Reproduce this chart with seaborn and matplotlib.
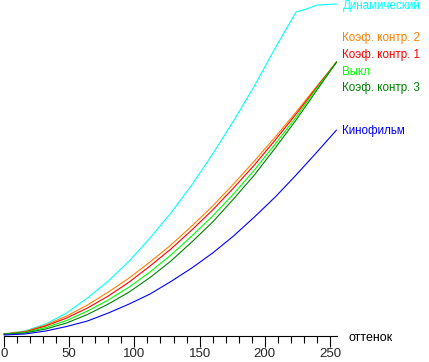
import matplotlib
matplotlib.use('Agg')
from matplotlib import pyplot as plt
from matplotlib.ticker import MultipleLocator
import pandas as pd
import seaborn as sns

shade = [0, 16, 32, 48, 64, 80, 96, 112, 128, 144, 160, 176, 192, 208, 224, 240, 255]
dynamic_shade = [0, 16, 32, 48, 64, 80, 96, 112, 128, 144, 160, 176, 192, 208, 224, 232, 240, 255]
dynamic = [2, 5, 12, 23, 38, 55, 75, 98, 123, 151, 182, 215, 250, 288, 324, 327, 331, 332]
contrast2 = [2, 4.5, 11, 20, 31, 44, 58, 74, 91, 110, 130, 152, 175, 199, 224, 250, 274]
contrast1 = [2, 4, 10, 18, 28, 40, 54, 70, 87, 106, 126, 148, 171, 196, 222, 249, 274]
off = [2, 3.5, 8.5, 15.5, 25, 36, 49, 64, 81, 100, 120, 142, 166, 192, 219, 248, 274]
contrast3 = [2, 3, 7, 13, 21.5, 32, 44, 58.5, 75, 94, 114, 137, 161, 188, 216, 246, 274]
cinema = [1, 2, 5, 9.5, 15, 23, 32, 42, 54.5, 68, 83, 100, 119, 139, 161, 184, 206]

names = ['Динамический', 'Коэф. контр. 2', 'Коэф. контр. 1', 'Выкл',
         'Коэф. контр. 3', 'Кинофильм']
colors = ['#00ffff', '#ff8000', '#ff0000', '#00ff00', '#008000', '#0000ff']
label_y = [330, 298, 281, 264, 248, 205]

sns.set_style('white')
plt.rcParams['font.family'] = ['Liberation Sans', 'DejaVu Sans']

fig = plt.figure(figsize=(4.29, 3.62), dpi=100)
ax = fig.add_axes([4 / 429, 26 / 362, 333.2 / 429, 334 / 362])

series = [(dynamic_shade, dynamic)] + [(shade, s) for s in
                                       [contrast2, contrast1, off, contrast3, cinema]]
for (xs, ys), name, c in zip(series, names, colors):
    df = pd.DataFrame({'x': xs, 'y': ys})
    sns.lineplot(data=df, x='x', y='y', color=c, linewidth=0.8, ax=ax, clip_on=False)

for name, c, ly in zip(names, colors, label_y):
    ax.text(259.5, ly, name, color=c, fontsize=8.4, ha='left', va='center')

ax.text(264.5, -5, 'оттенок', color='black', fontsize=9, ha='left', va='baseline')

ax.set_xlim(0, 255.5)
ax.set_ylim(0, 334)
for side in ['left', 'top', 'right']:
    ax.spines[side].set_visible(False)
ax.spines['bottom'].set_color('black')
ax.spines['bottom'].set_linewidth(0.8)
ax.set_yticks([])
ax.xaxis.set_major_locator(MultipleLocator(50))
ax.xaxis.set_minor_locator(MultipleLocator(10))
ax.tick_params(axis='x', which='major', direction='out', length=8, width=0.8,
               color='black', labelsize=9.5, pad=0.5, bottom=True)
ax.tick_params(axis='x', which='minor', direction='out', length=5, width=0.8,
               color='black', bottom=True)
ax.set_xlabel('')
ax.set_ylabel('')

fig.savefig('out.png', dpi=100)
plt.close(fig)
